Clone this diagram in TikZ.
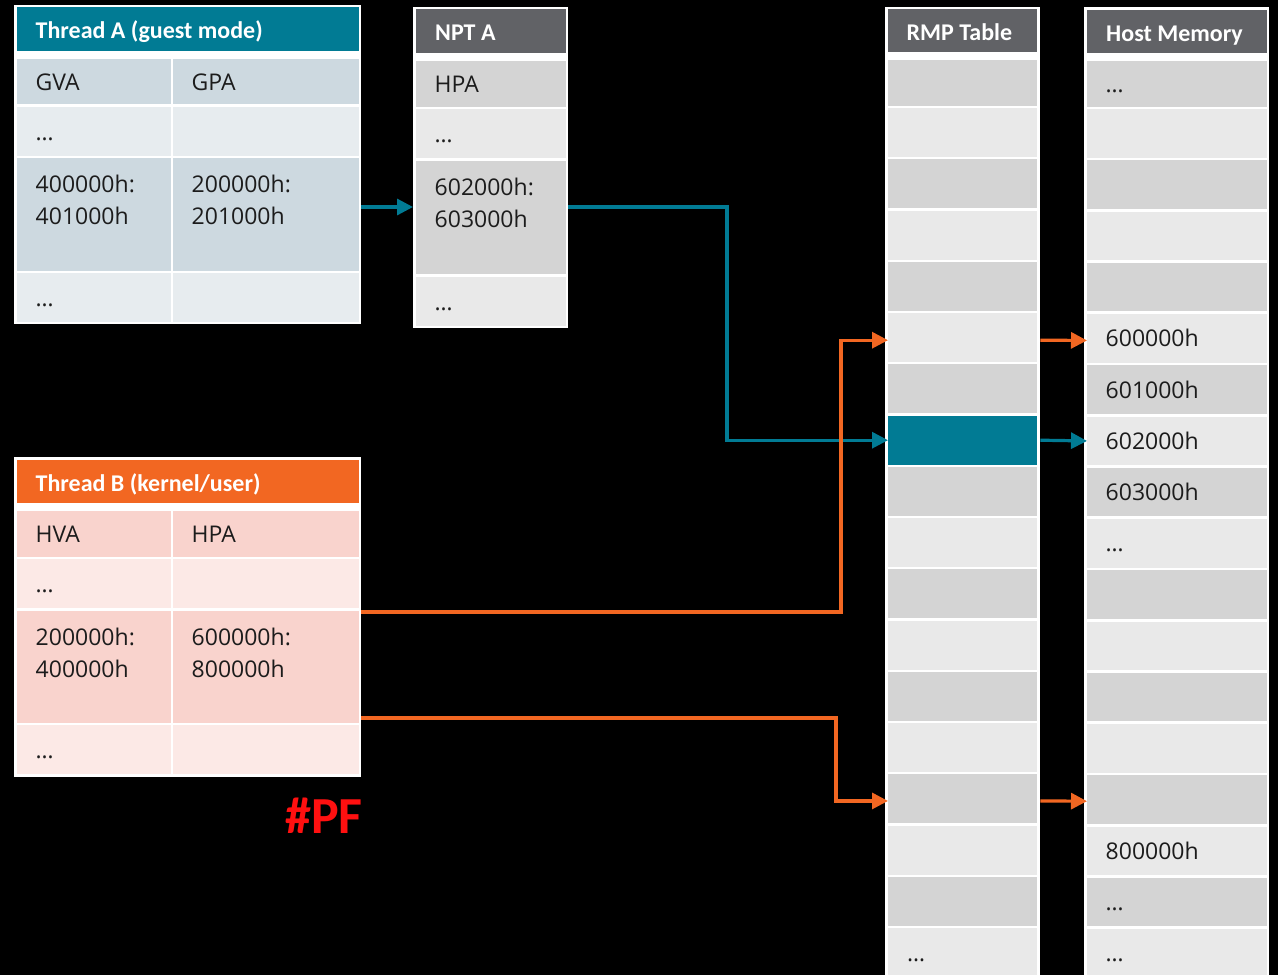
\documentclass[tikz,border=0pt]{standalone}
\usepackage{fontspec}
\setmainfont{Open Sans}
\newfontfamily\headfont{Carlito}
\usetikzlibrary{arrows.meta}

\definecolor{tealc}{HTML}{017B94}
\definecolor{orangec}{HTML}{F26722}
\definecolor{headgray}{HTML}{616266}
\definecolor{graydark}{HTML}{D4D4D4}
\definecolor{graylight}{HTML}{E9E9E9}
\definecolor{bluedark}{HTML}{CDD9E0}
\definecolor{bluelight}{HTML}{E7ECEF}
\definecolor{pinkdark}{HTML}{F9D3CD}
\definecolor{pinklight}{HTML}{FCE9E6}
\definecolor{txt}{HTML}{1C1C1C}
\definecolor{pfred}{HTML}{FF1010}

% a filled table cell: name, left, top, width, height, colour
\newcommand\tcell[6]{%
  \node[cell, fill=#6, minimum width=#4pt, minimum height=#5pt] (#1) at (#2,#3) {};}
% single-line text inside a cell
\newcommand\ctext[3][18.5]{%
  \node[celltext] (#2-t) at ([xshift=#1pt,yshift=-8.5pt]#2.west) {#3};}
% two-line text hanging from the top of a tall cell
\newcommand\ctwo[3][18.5]{%
  \node[celltext] (#2-t) at ([xshift=#1pt,yshift=-34pt]#2.north west)
    {\parbox[t]{140pt}{#3}};}
% header text
\newcommand\htext[3][18.5]{%
  \node[headtext] (#2-t) at ([xshift=#1pt,yshift=-9.5pt]#2.west) {#3};}

\begin{document}
\begin{tikzpicture}[x=1pt,y=-1pt,
  frame/.style={rectangle, draw=none, fill=white, inner sep=0pt, anchor=north west},
  cell/.style={rectangle, draw=none, inner sep=0pt, anchor=north west},
  celltext/.style={anchor=base west, inner sep=0pt, text=txt,
    font=\fontsize{23}{32}\selectfont},
  headtext/.style={anchor=base west, inner sep=0pt, text=white,
    font=\headfont\bfseries\fontsize{24}{28}\selectfont},
  link/.style={line width=3.2pt, -{Triangle[length=16pt,width=16pt]}},
]
\useasboundingbox (0,0) rectangle (1278,975);
\fill[black] (0,0) rectangle (1278,975);

% ---------- Thread A (guest mode) ----------
\node[frame, minimum width=347pt, minimum height=319pt] (ta) at (14,5) {};
\tcell{ta-h}{17}{7}{342}{44}{tealc}
\htext{ta-h}{Thread A (guest mode)}
\tcell{ta-1a}{17}{59}{154}{45}{bluedark}
\tcell{ta-1b}{173}{59}{186}{45}{bluedark}
\tcell{ta-2a}{17}{107}{154}{49}{bluelight}
\tcell{ta-2b}{173}{107}{186}{49}{bluelight}
\tcell{ta-3a}{17}{158}{154}{113}{bluedark}
\tcell{ta-3b}{173}{158}{186}{113}{bluedark}
\tcell{ta-4a}{17}{273}{154}{49}{bluelight}
\tcell{ta-4b}{173}{273}{186}{49}{bluelight}
\ctext{ta-1a}{GVA}
\ctext{ta-1b}{GPA}
\ctext{ta-2a}{…}
\ctwo{ta-3a}{400000h:\\401000h}
\ctwo{ta-3b}{200000h:\\201000h}
\ctext{ta-4a}{…}

% ---------- NPT A ----------
\node[frame, minimum width=155pt, minimum height=321pt] (npt) at (413,7) {};
\tcell{npt-h}{416}{9}{150}{44}{headgray}
\htext[19]{npt-h}{NPT A}
\tcell{npt-1}{416}{61}{150}{46}{graydark}
\tcell{npt-2}{416}{109}{150}{49}{graylight}
\tcell{npt-3}{416}{161}{150}{113}{graydark}
\tcell{npt-4}{416}{277}{150}{49}{graylight}
\ctext{npt-1}{HPA}
\ctext{npt-2}{…}
\ctwo{npt-3}{602000h:\\603000h}
\ctext{npt-4}{…}

% ---------- Thread B (kernel/user) ----------
\node[frame, minimum width=347pt, minimum height=320pt] (tb) at (14,457) {};
\tcell{tb-h}{17}{460}{342}{43}{orangec}
\htext{tb-h}{Thread B (kernel/user)}
\tcell{tb-1a}{17}{511}{154}{46}{pinkdark}
\tcell{tb-1b}{173}{511}{186}{46}{pinkdark}
\tcell{tb-2a}{17}{559}{154}{49}{pinklight}
\tcell{tb-2b}{173}{559}{186}{49}{pinklight}
\tcell{tb-3a}{17}{611}{154}{112}{pinkdark}
\tcell{tb-3b}{173}{611}{186}{112}{pinkdark}
\tcell{tb-4a}{17}{725}{154}{49}{pinklight}
\tcell{tb-4b}{173}{725}{186}{49}{pinklight}
\ctext{tb-1a}{HVA}
\ctext{tb-1b}{HPA}
\ctext{tb-2a}{…}
\ctwo{tb-3a}{200000h:\\400000h}
\ctwo{tb-3b}{600000h:\\800000h}
\ctext{tb-4a}{…}

\node[anchor=base west, inner sep=0pt, text=pfred,
  font=\headfont\bfseries\fontsize{52}{60}\selectfont] (pf) at (285,833) {\#PF};

% ---------- RMP Table ----------
\node[frame, minimum width=155pt, minimum height=990pt] (rmp) at (885,7) {};
\tcell{rmp-h}{888}{9}{149}{43}{headgray}
\htext{rmp-h}{RMP Table}
\tcell{rmp-1}{888}{60}{149}{46}{graydark}
\foreach \k in {2,...,18} {
  \pgfmathsetmacro\rtop{108+51.25*(\k-2)}
  \pgfmathtruncatemacro\odd{mod(\k,2)}
  \ifnum\odd=1 \def\rcol{graydark}\else\def\rcol{graylight}\fi
  \ifnum\k=8 \def\rcol{tealc}\fi
  \tcell{rmp-\k}{888}{\rtop}{149}{49}{\rcol}
}
\ctext[19]{rmp-18}{…}

% ---------- Host Memory ----------
\node[frame, minimum width=185pt, minimum height=990pt] (host) at (1084,7) {};
\tcell{host-h}{1087}{10}{180}{43}{headgray}
\htext[19]{host-h}{Host Memory}
\tcell{host-1}{1087}{61}{180}{46}{graydark}
\foreach \k in {2,...,18} {
  \pgfmathsetmacro\rtop{109+51.25*(\k-2)}
  \pgfmathtruncatemacro\odd{mod(\k,2)}
  \ifnum\odd=1 \def\rcol{graydark}\else\def\rcol{graylight}\fi
  \tcell{host-\k}{1087}{\rtop}{180}{48.5}{\rcol}
}
\ctext{host-1}{…}
\ctext{host-6}{600000h}
\ctext{host-7}{601000h}
\ctext{host-8}{602000h}
\ctext{host-9}{603000h}
\ctext{host-10}{…}
\ctext{host-16}{800000h}
\ctext{host-17}{…}
\ctext{host-18}{…}

% ---------- translation links ----------
\coordinate (ta-out) at (361,207);
\draw[link, tealc] (ta-out) -- (ta-out -| npt.west);
\draw[link, tealc] (npt.east |- ta-out)
  -| ([xshift=-161pt]rmp-8.west) -- (rmp-8.west);
\draw[link, tealc] (rmp.east |- rmp-8.center) -- (host-8.west);

\coordinate (tb-up) at (361,612);
\draw[link, orangec] (tb-up)
  -| ([xshift=-47pt,yshift=-2.5pt]rmp-6.west) -- ([yshift=-2.5pt]rmp-6.west);
\draw[link, orangec] ([yshift=-2.5pt]rmp.east |- rmp-6.center) -- ([yshift=-2pt]host-6.west);

\coordinate (tb-down) at (361,718);
\draw[link, orangec] (tb-down)
  -| ([xshift=-52pt,yshift=-2pt]rmp-15.west) -- ([yshift=-2pt]rmp-15.west);
\draw[link, orangec] ([yshift=-2pt]rmp.east |- rmp-15.center) -- ([yshift=-1.5pt]host-15.west);
\end{tikzpicture}
\end{document}
